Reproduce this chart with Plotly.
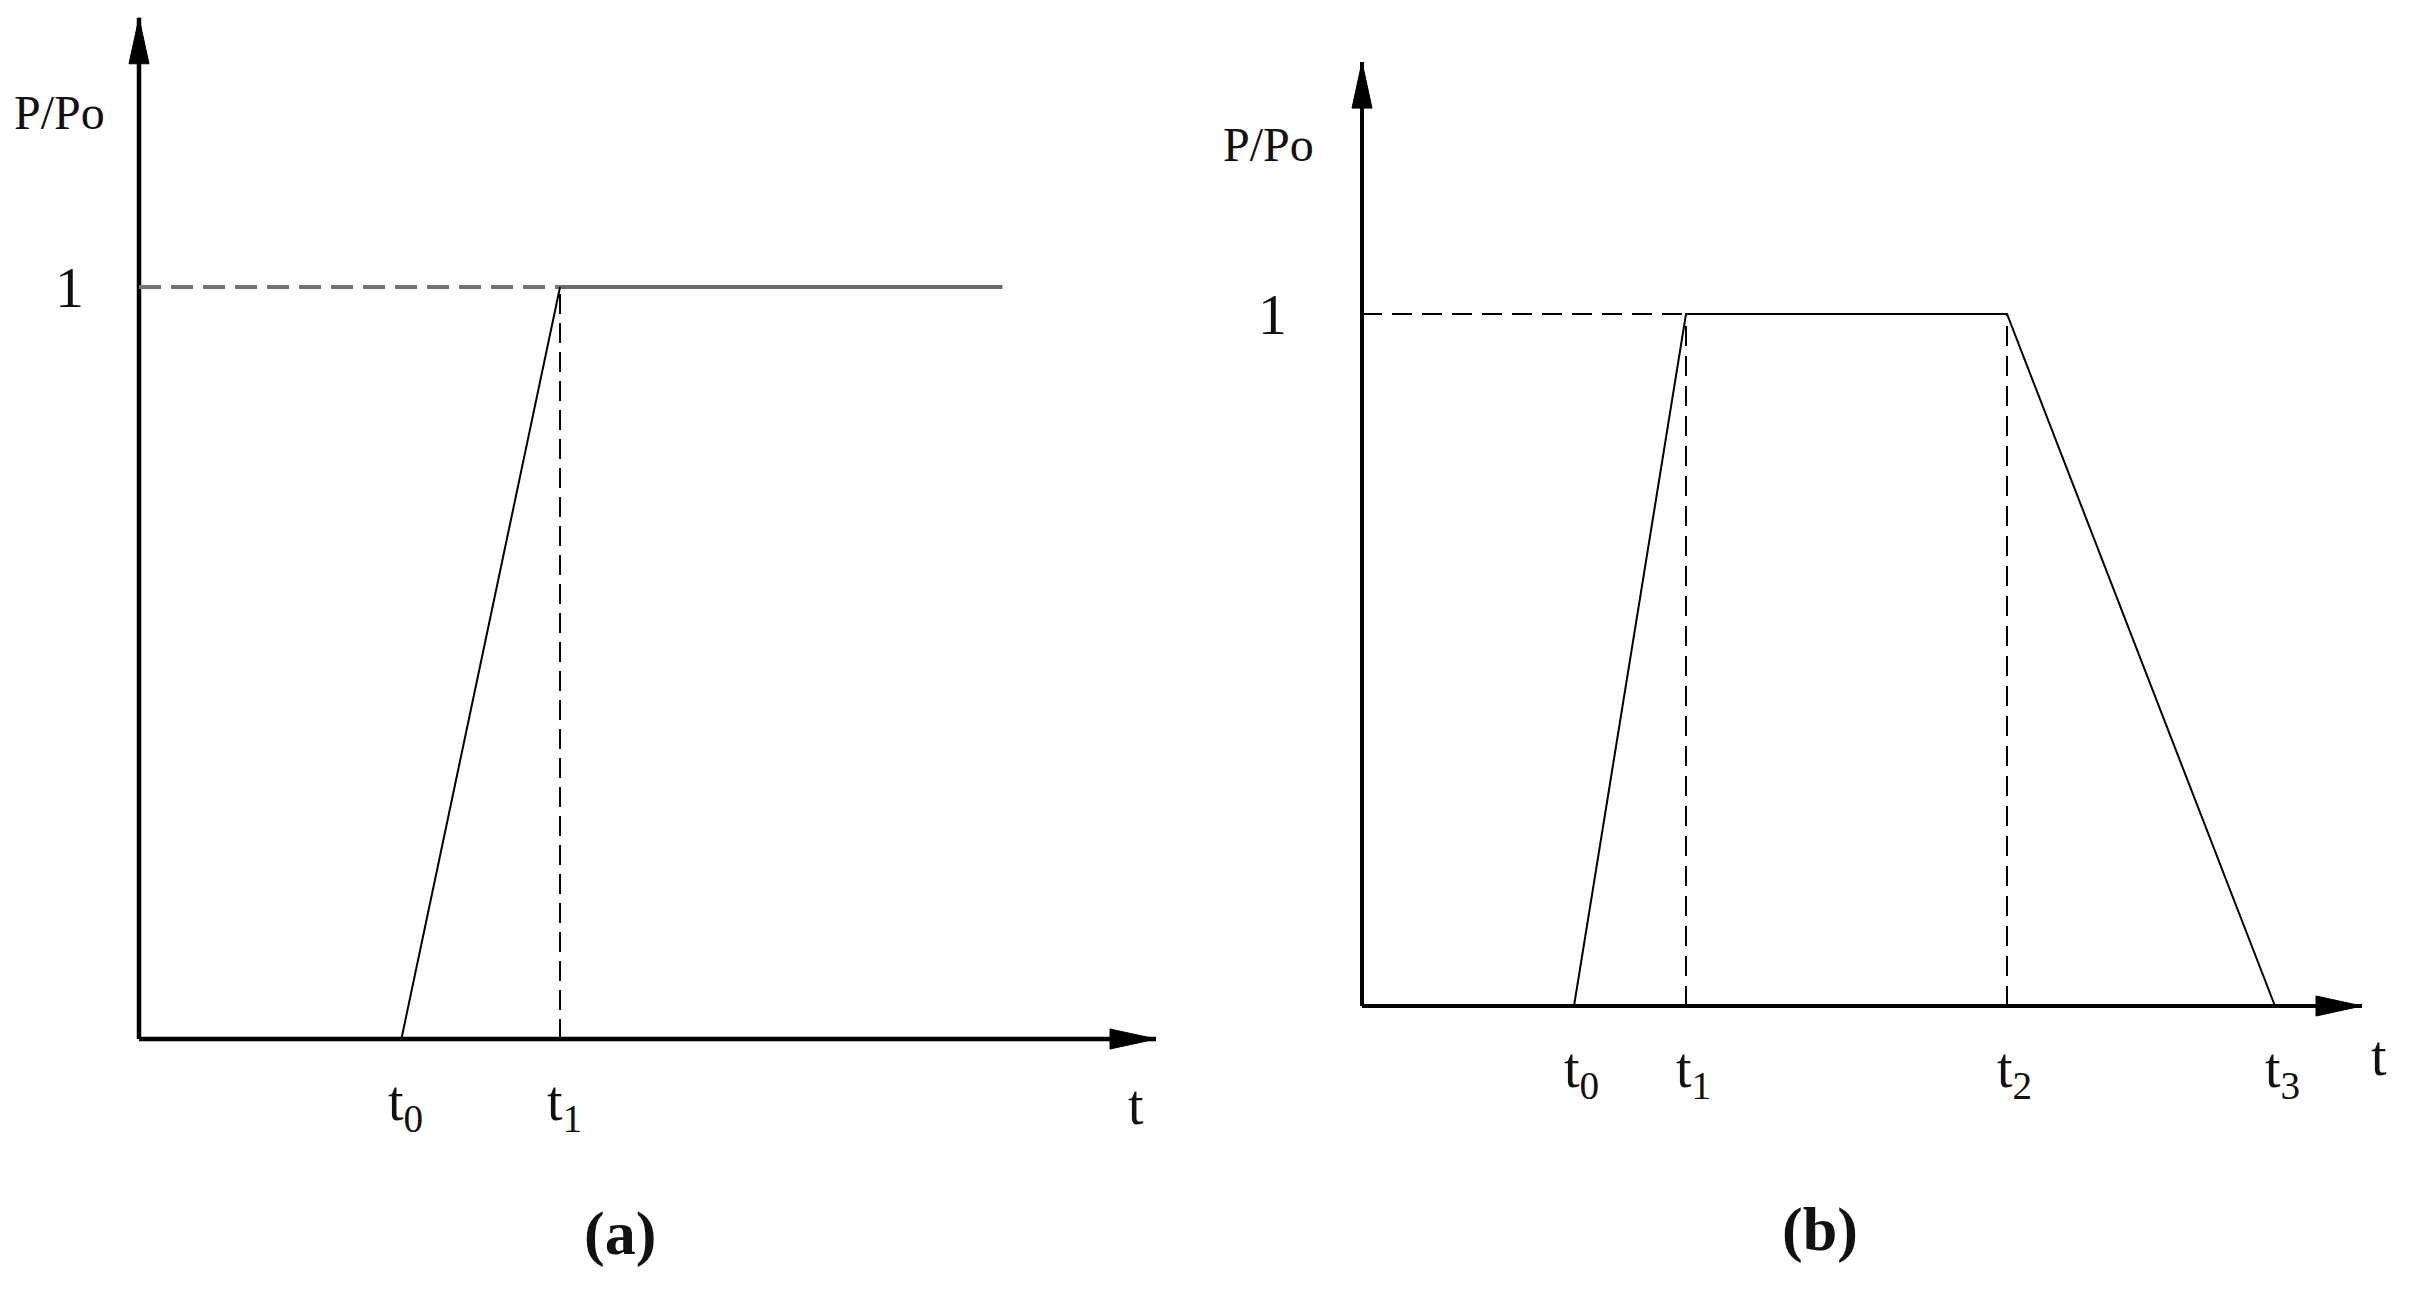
import plotly.graph_objects as go

# figure size (the page body adds an 8 px margin on each side)
OFF = 8
W, H = 2417 - 2 * OFF, 1292 - 2 * OFF

# ---------------- data ----------------
# panel (a): ramp load then constant
a_times = [0.0, 2.58, 4.14, 8.49]          # origin, t0, t1, end of plateau
a_load = [0.0, 0.0, 1.0, 1.0]
a_axis_x_tip = 10.0
a_axis_y_tip = 1.358
a_tick_vals = [2.58, 4.14]
a_tick_text = ["t<sub>0</sub>", "t<sub>1</sub>"]

# panel (b): trapezoidal load
b_times = [0.0, 2.12, 3.24, 6.45, 9.13]    # origin, t0, t1, t2, t3
b_load = [0.0, 0.0, 1.0, 1.0, 0.0]
b_axis_x_tip = 10.0
b_axis_y_tip = 1.364
b_tick_vals = [2.12, 3.24, 6.45, 9.13]
b_tick_text = ["t<sub>0</sub>", "t<sub>1</sub>", "t<sub>2</sub>", "t<sub>3</sub>"]

y_label = "P/Po"
level_one = 1.0
captions = ["(a)", "(b)"]

# ---------------- layout geometry (pixels in the reference window) ----------------
def domains(x0_px, px_per_x, xr, y0_px, px_per_y, yr):
    x0_px -= OFF
    y0_px -= OFF
    left = (x0_px + xr[0] * px_per_x) / W
    right = (x0_px + xr[1] * px_per_x) / W
    bottom = (H - (y0_px - yr[0] * px_per_y)) / H
    top = (H - (y0_px - yr[1] * px_per_y)) / H
    return [left, right], [bottom, top]

xa_range, ya_range = [-1.0, 10.6], [-0.1, 1.36]
xb_range, yb_range = [-1.0, 10.4], [-0.1, 1.4]
xa_dom, ya_dom = domains(139, 101.7, xa_range, 1039, 752, ya_range)
xb_dom, yb_dom = domains(1362, 100.0, xb_range, 1006, 692, yb_range)

FONT = "Liberation Serif"
fig = go.Figure()

def line(x, y, ax, color="black", width=2, dash="solid"):
    fig.add_trace(go.Scatter(x=x, y=y, xaxis=ax[0], yaxis=ax[1], mode="lines",
                             line=dict(color=color, width=width, dash=dash),
                             hoverinfo="skip", showlegend=False))

# ---- panel (a) ----
A = ("x", "y")
line([0, a_axis_x_tip], [0, 0], A, width=4.5)
line([0, 0], [0, a_axis_y_tip], A, width=4.5)
line([a_times[0], a_times[2]], [level_one, level_one], A, color="#747474", width=4, dash="22px,10px")
line([a_times[2], a_times[3]], [a_load[2], a_load[3]], A, color="#6b6b6b", width=4)
line([a_times[2], a_times[2]], [0, level_one], A, width=2, dash="20px,9px")
line(a_times[1:3], a_load[1:3], A, width=2)

# ---- panel (b) ----
B = ("x2", "y2")
line([0, b_axis_x_tip], [0, 0], B, width=4)
line([0, 0], [0, b_axis_y_tip], B, width=4)
line([b_times[0], b_times[2]], [level_one, level_one], B, width=2, dash="20px,10px")
for tv in b_times[2:4]:
    line([tv, tv], [0, level_one], B, width=2, dash="20px,10px")
line(b_times[1:], b_load[1:], B, width=2)

# ---- arrowheads (pixel-sized shapes anchored at axis tips) ----
shapes = []
def up_arrow(xref, yref, ytip, w=10, l=46):
    shapes.append(dict(type="path", xref=xref, yref=yref, xsizemode="pixel", ysizemode="pixel",
                       xanchor=0, yanchor=ytip, path=f"M{-w},{-l} L0,0 L{w},{-l} Z",
                       fillcolor="black", line=dict(color="black", width=1)))
def right_arrow(xref, yref, xtip, w=10, l=46):
    shapes.append(dict(type="path", xref=xref, yref=yref, xsizemode="pixel", ysizemode="pixel",
                       xanchor=xtip, yanchor=0, path=f"M{-l},{-w} L0,0 L{-l},{w} Z",
                       fillcolor="black", line=dict(color="black", width=1)))
up_arrow("x", "y", a_axis_y_tip)
right_arrow("x", "y", a_axis_x_tip)
up_arrow("x2", "y2", b_axis_y_tip)
right_arrow("x2", "y2", b_axis_x_tip)

# ---- text ----
ann = []
def text(x, y, s, xref, yref, size, xshift=0, yshift=0, bold=False):
    ann.append(dict(x=x, y=y, xref=xref, yref=yref, text=f"<b>{s}</b>" if bold else s,
                    showarrow=False, xanchor="center", yanchor="middle",
                    xshift=xshift, yshift=yshift,
                    font=dict(family=FONT, size=size, color="#111111")))

for tv, tt in zip(a_tick_vals, a_tick_text):
    text(tv, 0, tt, "x", "y", 56, xshift=4, yshift=-66)
text(a_axis_x_tip, 0, "t", "x", "y", 56, xshift=-20, yshift=-66)
text(0, level_one, "1", "x", "y", 58, xshift=-70)
text(0, a_axis_y_tip, y_label, "x", "y", 48, xshift=-80, yshift=-95)

for tv, tt in zip(b_tick_vals, b_tick_text):
    text(tv, 0, tt, "x2", "y2", 56, xshift=7, yshift=-66)
text(b_axis_x_tip, 0, "t", "x2", "y2", 56, xshift=17, yshift=-50)
text(0, level_one, "1", "x2", "y2", 58, xshift=-90)
text(0, b_axis_y_tip, y_label, "x2", "y2", 48, xshift=-94, yshift=-82)

# captions placed in page coordinates
for cap, cx, cy in zip(captions, [620, 1820], [1233, 1229]):
    text((cx - OFF) / W, (H - (cy - OFF)) / H, cap, "paper", "paper", 62, bold=True)

ax_common = dict(showgrid=False, zeroline=False, showline=False, showticklabels=False, ticks="")
fig.update_layout(
    width=W, height=H, autosize=False,
    margin=dict(l=0, r=0, t=0, b=0),
    paper_bgcolor="white", plot_bgcolor="white",
    xaxis=dict(domain=xa_dom, range=xa_range, anchor="y", **ax_common),
    yaxis=dict(domain=ya_dom, range=ya_range, anchor="x", **ax_common),
    xaxis2=dict(domain=xb_dom, range=xb_range, anchor="y2", **ax_common),
    yaxis2=dict(domain=yb_dom, range=yb_range, anchor="x2", **ax_common),
    shapes=shapes, annotations=ann, showlegend=False,
)

fig.write_html("out.html")
